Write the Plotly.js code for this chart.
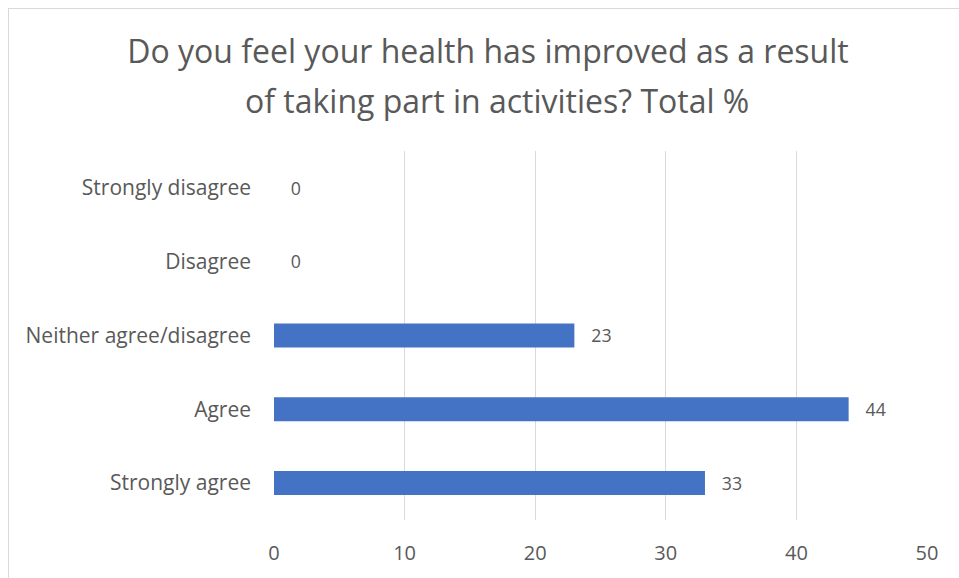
<!DOCTYPE html>
<html>
<head>
<meta charset="utf-8">
<script src="https://cdn.plot.ly/plotly-3.0.1.min.js"></script>
<style>
  html, body { margin: 0; padding: 0; background: #ffffff; }
  #frame { position: absolute; left: 8px; top: 8px; width: 1000px; height: 600px; border: 1px solid #d9d9d9; }
  #chart { position: absolute; left: 0; top: 0; width: 959px; height: 578px; }
</style>
</head>
<body>
<div id="frame"></div>
<div id="chart"></div>
<script>
const categories = ['Strongly agree', 'Agree', 'Neither agree/disagree', 'Disagree', 'Strongly disagree'];
const values = [33, 44, 23, 0, 0];
const xTicks = [0, 10, 20, 30, 40, 50];
const titleLine1 = 'Do you feel your health has improved as a result';
const titleLine2 = 'of taking part in activities? Total %';

const textColor = '#595959';
const fontFam = 'Open Sans, sans-serif';

const trace = {
  type: 'bar',
  orientation: 'h',
  y: categories,
  x: values,
  marker: { color: '#4472C4' },
  texttemplate: '\u00a0\u00a0\u00a0%{x}',
  textposition: 'outside',
  cliponaxis: false,
  textfont: { family: fontFam, size: 20, color: textColor },
  hoverinfo: 'x+y'
};

const layout = {
  width: 959,
  height: 578,
  paper_bgcolor: 'rgba(0,0,0,0)',
  plot_bgcolor: 'rgba(0,0,0,0)',
  margin: { l: 274, r: 32, t: 151, b: 58 },
  bargap: 0.675,
  showlegend: false,
  title: {
    text: titleLine1,
    font: { family: fontFam, size: 32, color: textColor },
    x: 488 / 959, xanchor: 'center',
    y: 1 - 52 / 578, yanchor: 'middle', yref: 'container'
  },
  annotations: [{
    text: titleLine2,
    xref: 'paper', yref: 'paper',
    x: (497 - 274) / 653, y: 1 + (151 - 101) / 369,
    xanchor: 'center', yanchor: 'middle',
    showarrow: false,
    font: { family: fontFam, size: 32, color: textColor }
  }],
  xaxis: {
    range: [0, 50],
    tickvals: xTicks,
    ticktext: xTicks.map(String),
    showgrid: true,
    gridcolor: '#d9d9d9',
    gridwidth: 1,
    zeroline: false,
    showline: false,
    ticks: '',
    ticklabelstandoff: 19,
    tickfont: { family: fontFam, size: 20, color: textColor },
    fixedrange: true
  },
  yaxis: {
    categoryorder: 'array',
    categoryarray: categories,
    showgrid: false,
    zeroline: false,
    showline: false,
    ticks: '',
    ticklabelstandoff: 22,
    tickfont: { family: fontFam, size: 21, color: textColor },
    fixedrange: true
  }
};

Plotly.newPlot('chart', [trace], layout, { displayModeBar: false, staticPlot: true });
</script>
</body>
</html>
